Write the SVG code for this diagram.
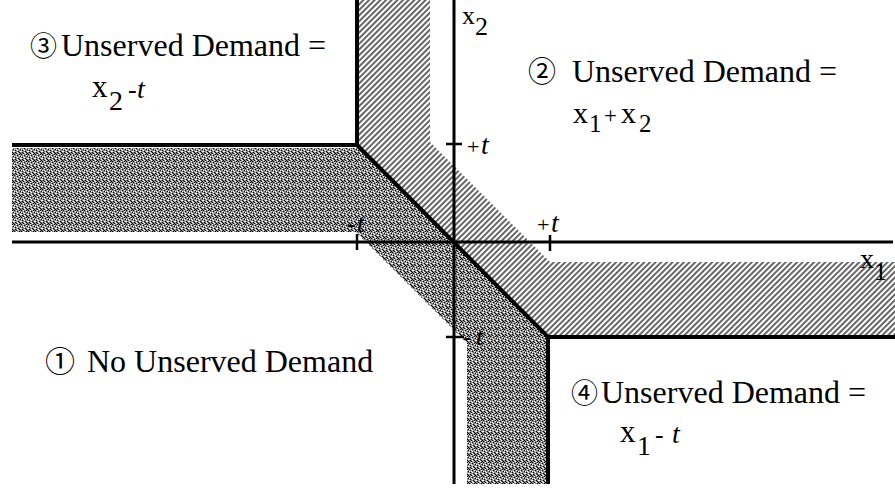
<svg xmlns="http://www.w3.org/2000/svg" width="895" height="489" viewBox="0 0 895 489">
<defs>
<pattern id="hatch" patternUnits="userSpaceOnUse" width="4" height="4" patternTransform="rotate(45)">
<rect width="4" height="4" fill="#fff"/>
<line x1="1" y1="0" x2="1" y2="4" stroke="#000" stroke-width="1.2"/>
</pattern>
<pattern id="stip" patternUnits="userSpaceOnUse" width="7" height="7">
<rect width="7" height="7" fill="#8a8a8a"/>
<path d="M0 0h1v1h-1zM3 1h1v1h-1zM1 3h1v1h-1zM4 4h1v1h-1zM2 6h1v1h-1zM6 2h1v1h-1zM5 5h1v1h-1zM1 5h1v1h-1zM5 0h1v1h-1zM6 6h1v1h-1z" fill="#000"/>
<path d="M2 0h1v1h-1zM5 1h1v1h-1zM0 4h1v1h-1zM3 3h1v1h-1zM4 6h1v1h-1zM0 2h1v1h-1zM2 2h1v1h-1zM6 4h1v1h-1zM3 5h1v1h-1z" fill="#fff"/>
</pattern>
<style>
.t{font-family:"Liberation Serif","Times New Roman",serif;fill:#000}
.c{font-family:"Noto Sans CJK JP","DejaVu Sans",sans-serif}
.i{font-style:italic}
.thick{stroke:#000;stroke-width:4;fill:none}
.axis{stroke:#000;stroke-width:3;fill:none}
.tick{stroke:#000;stroke-width:2.5;fill:none}
</style>
</defs>
<rect width="895" height="489" fill="#fff"/>
<g id="regions">
<polygon id="hatched" points="357,0 430,0 430,142 550,262 895,262 895,337 548,337 357,145" fill="url(#hatch)"/>
<polygon id="stippled" points="12,148 360,148 548,337 548,484 467,484 467,343 356,232 12,232" fill="url(#stip)"/>
</g>
<g id="connectors">
<path class="axis" d="M12,242 H893"/>
<path class="axis" d="M454,0 V484"/>
<path class="thick" d="M12,145 H357 V0"/>
<path class="thick" d="M357,145 L548,337 H895"/>
<path class="thick" d="M548,337 V484"/>
<path class="tick" d="M357,234 V250 M550,235 V251 M446,144 H462 M446,337 H464"/>
</g>
<g id="region3">
<text class="t" font-size="32" y="56"><tspan class="c" x="30" font-size="27">③</tspan><tspan x="61">Unserved Demand =</tspan></text>
<text class="t" font-size="31" y="97"><tspan x="92">x</tspan><tspan x="109" dy="13" font-size="28">2</tspan><tspan x="128" dy="-12" font-size="26">-</tspan><tspan x="137" class="i" font-size="28">t</tspan></text>
</g>
<g id="region2">
<text class="t" font-size="32" y="82"><tspan class="c" x="528" font-size="28">②</tspan><tspan x="572">Unserved Demand =</tspan></text>
<text class="t" font-size="30" y="123"><tspan x="573">x</tspan><tspan x="589" dy="9" font-size="25">1</tspan><tspan x="604" dy="-9" font-size="23">+</tspan><tspan x="621">x</tspan><tspan x="639" dy="9" font-size="25">2</tspan></text>
</g>
<g id="region1">
<text class="t" font-size="32" y="372"><tspan class="c" x="45" font-size="30">①</tspan><tspan x="87">No Unserved Demand</tspan></text>
</g>
<g id="region4">
<text class="t" font-size="32" y="403"><tspan class="c" x="571" font-size="27">④</tspan><tspan x="601">Unserved Demand =</tspan></text>
<text class="t" font-size="31" y="442"><tspan x="620">x</tspan><tspan x="637" dy="13" font-size="28">1</tspan><tspan x="655" dy="-12" font-size="26">-</tspan><tspan x="672" class="i" font-size="28">t</tspan></text>
</g>
<g id="axis-labels">
<text class="t" font-size="26" y="24"><tspan x="462">x</tspan><tspan x="475" dy="11" font-size="26">2</tspan></text>
<text class="t" font-size="28" y="268"><tspan x="860">x</tspan><tspan x="874" dy="12" font-size="26">1</tspan></text>
<text class="t" y="154"><tspan x="467" font-size="22">+</tspan><tspan x="481" class="i" font-size="28">t</tspan></text>
<text class="t" y="232"><tspan x="537" font-size="22">+</tspan><tspan x="551" class="i" font-size="28">t</tspan></text>
<text class="t" y="232"><tspan x="347" font-size="26">-</tspan><tspan x="357" class="i" font-size="26">t</tspan></text>
<text class="t" y="345"><tspan x="463" font-size="24">-</tspan><tspan x="476" class="i" font-size="26">t</tspan></text>
</g>
</svg>
